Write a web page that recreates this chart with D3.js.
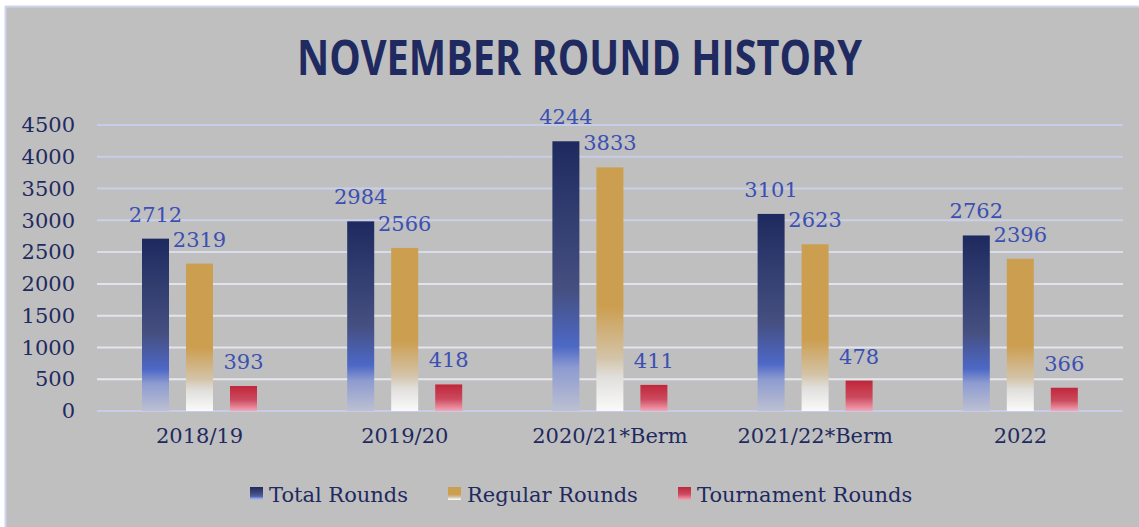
<!DOCTYPE html>
<html>
<head>
<meta charset="utf-8">
<script src="https://cdn.jsdelivr.net/npm/d3@7"></script>
<style>
  body { margin: 0; background: #ffffff; }
  svg { display: block; }
</style>
</head>
<body>
<div id="chart"></div>
<script>
//////////////////////////////////////////////
// Data //////////////////////////////////////
//////////////////////////////////////////////
var categories = ["2018/19", "2019/20", "2020/21*Berm", "2021/22*Berm", "2022"];
var seriesNames = ["Total Rounds", "Regular Rounds", "Tournament Rounds"];
var totalRounds = [2712, 2984, 4244, 3101, 2762];
var regularRounds = [2319, 2566, 3833, 2623, 2396];
var tournamentRounds = [393, 418, 411, 478, 366];
var yTicks = [0, 500, 1000, 1500, 2000, 2500, 3000, 3500, 4000, 4500];

var seriesValues = [totalRounds, regularRounds, tournamentRounds];

//////////////////////////////////////////////
// Chart Config /////////////////////////////
//////////////////////////////////////////////
var width = 1139, height = 527;
var plot = {left: 97, right: 1123, top: 125, bottom: 411};
var navy = "#1f2a60";
var labelBlue = "#3b4fb4";
var serif = "'DejaVu Serif', 'Liberation Serif', serif";

var svg = d3.select("#chart").append("svg")
    .attr("width", width)
    .attr("height", height);

var defs = svg.append("defs");

// bar fills
function addGradient(id, stops) {
  var g = defs.append("linearGradient")
      .attr("id", id)
      .attr("x1", 0).attr("y1", 0).attr("x2", 0).attr("y2", 1);
  stops.forEach(function(s) {
    g.append("stop").attr("offset", s[0]).attr("stop-color", s[1]);
  });
}
addGradient("g0", [[0, "#1e2a5f"], [0.55, "#454f80"], [0.76, "#4d68c6"], [0.84, "#8d9bd0"], [1, "#bcc0d2"]]);
addGradient("g1", [[0, "#cc9e50"], [0.57, "#cc9e50"], [0.78, "#d3c3a6"], [0.86, "#e0dfdc"], [1, "#fafafa"]]);
addGradient("g2", [[0, "#c0263a"], [0.55, "#cc4a5e"], [1, "#f4a6b6"]]);

// grid line fade
var gridGrad = defs.append("linearGradient")
    .attr("id", "gridGrad")
    .attr("gradientUnits", "userSpaceOnUse")
    .attr("x1", 0).attr("y1", plot.top).attr("x2", 0).attr("y2", plot.bottom);
gridGrad.append("stop").attr("offset", 0).attr("stop-color", "#c6cce9");
gridGrad.append("stop").attr("offset", 0.35).attr("stop-color", "#ccd1ea");
gridGrad.append("stop").attr("offset", 0.5).attr("stop-color", "#e2e2ec");
gridGrad.append("stop").attr("offset", 1).attr("stop-color", "#e8e8ee");

// background panel
svg.append("rect")
    .attr("x", 6).attr("y", 7)
    .attr("width", width).attr("height", height)
    .attr("fill", "#bfbfbf");
svg.append("line")
    .attr("x1", 5).attr("x2", width).attr("y1", 6.5).attr("y2", 6.5)
    .attr("stroke", "#d0d5ee").attr("stroke-width", 2);
svg.append("line")
    .attr("x1", 5.5).attr("x2", 5.5).attr("y1", 6).attr("y2", height)
    .attr("stroke", "#d0d5ee").attr("stroke-width", 2);

// title
svg.append("text")
    .attr("x", 297).attr("y", 75)
    .attr("textLength", 565)
    .attr("lengthAdjust", "spacingAndGlyphs")
    .style("font-family", "'Open Sans', 'DejaVu Sans', sans-serif")
    .style("font-weight", 700)
    .style("font-size", "49px")
    .style("fill", navy)
    .text("NOVEMBER ROUND HISTORY");

// scales
var xScale = d3.scaleBand().domain(categories).range([plot.left, plot.right]);
var xSub = d3.scaleBand().domain(d3.range(3)).range([45, 160]).paddingInner(17 / 44);
var yScale = d3.scaleLinear().domain([0, 4500]).range([plot.bottom, plot.top]);

// grid
var grid = svg.append("g");
grid.selectAll("line").data(yTicks).enter().append("line")
    .attr("x1", plot.left).attr("x2", plot.right)
    .attr("y1", function(d) { return yScale(d); })
    .attr("y2", function(d) { return yScale(d); })
    .attr("stroke", function(d) { return d === 0 ? "#c6cce9" : "url(#gridGrad)"; })
    .attr("stroke-width", 2);

// y axis labels
var yAxis = d3.axisLeft(yScale).tickValues(yTicks).tickFormat(d3.format("d"))
    .tickSize(0).tickPadding(0);
var yAxisEl = svg.append("g")
    .attr("transform", "translate(75,0)")
    .call(yAxis);
yAxisEl.select(".domain").remove();
yAxisEl.selectAll("text")
    .style("font-family", serif)
    .style("font-size", "21px")
    .style("fill", navy);

// x axis labels
var xAxis = d3.axisBottom(xScale).tickSize(0).tickPadding(0);
var xAxisEl = svg.append("g")
    .attr("transform", "translate(0,428)")
    .call(xAxis);
xAxisEl.select(".domain").remove();
xAxisEl.selectAll("text")
    .style("font-family", serif)
    .style("font-size", "21px")
    .style("fill", navy);

// bars
var groups = svg.append("g").selectAll("g")
    .data(categories).enter().append("g")
    .attr("transform", function(d) { return "translate(" + xScale(d) + ",0)"; });

groups.each(function(cat, ci) {
  var g = d3.select(this);
  var rows = seriesValues.map(function(vals, si) { return {s: si, v: vals[ci]}; });

  g.selectAll("rect").data(rows).enter().append("rect")
      .attr("x", function(d) { return xSub(d.s); })
      .attr("width", xSub.bandwidth())
      .attr("y", function(d) { return yScale(d.v); })
      .attr("height", function(d) { return yScale(0) - yScale(d.v); })
      .attr("fill", function(d) { return "url(#g" + d.s + ")"; });

  g.selectAll("text").data(rows).enter().append("text")
      .attr("x", function(d) { return xSub(d.s) + xSub.bandwidth() / 2; })
      .attr("y", function(d) { return yScale(d.v) - 17; })
      .attr("text-anchor", "middle")
      .style("font-family", serif)
      .style("font-size", "21px")
      .style("fill", labelBlue)
      .text(function(d) { return d.v; });
});

// legend
var legendX = [250, 448, 678];
var legend = svg.append("g").selectAll("g")
    .data(seriesNames).enter().append("g")
    .attr("transform", function(d, i) { return "translate(" + legendX[i] + ",487)"; });
legend.append("rect")
    .attr("width", 13).attr("height", 13)
    .attr("fill", function(d, i) { return "url(#g" + i + ")"; });
legend.append("text")
    .attr("x", 19).attr("y", 15)
    .style("font-family", serif)
    .style("font-size", "21px")
    .style("fill", navy)
    .text(function(d) { return d; });
</script>
</body>
</html>
